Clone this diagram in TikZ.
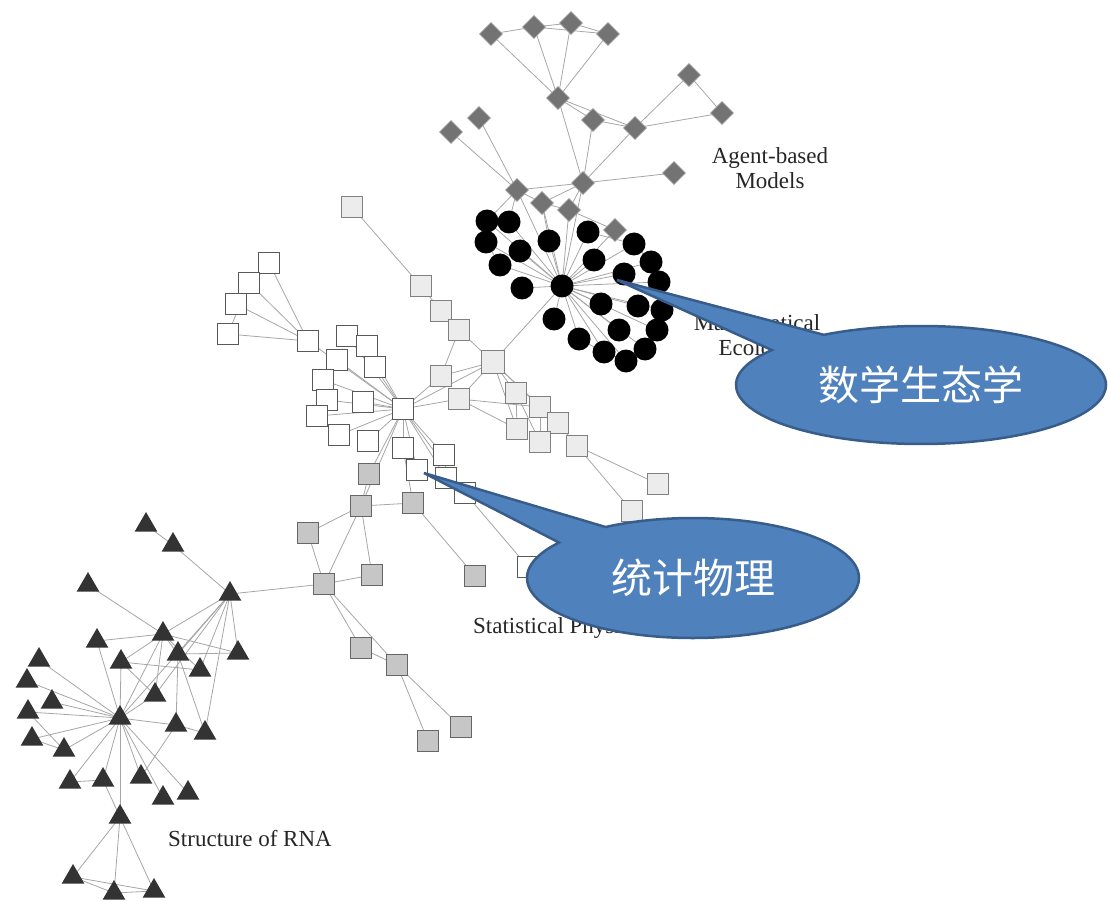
\documentclass[tikz,border=0pt]{standalone}
\usepackage{fontspec}
\setmainfont{Liberation Serif}
\newfontfamily\cjk{Noto Sans CJK SC}
\usepackage{tikz}
\usetikzlibrary{shapes.geometric,shapes.callouts,backgrounds}

\definecolor{bubblefill}{RGB}{79,129,189}
\definecolor{bubbleedge}{RGB}{56,93,138}

\tikzset{
  edge/.style={draw=gray!70, line width=0.8pt},
  dia/.style={diamond, fill=black!55, draw=black!40, line width=0.6pt, minimum size=23pt, inner sep=0pt},
  blob/.style={circle, fill=black, minimum size=23pt, inner sep=0pt},
  sqw/.style={rectangle, fill=white, draw=black!65, line width=0.9pt, minimum size=21pt, inner sep=0pt},
  sql/.style={rectangle, fill=gray!15, draw=black!50, line width=0.9pt, minimum size=21pt, inner sep=0pt},
  sqm/.style={rectangle, fill=gray!45, draw=black!60, line width=0.9pt, minimum size=21pt, inner sep=0pt},
  tri/.style={regular polygon, regular polygon sides=3, fill=black!80, minimum size=26pt, inner sep=0pt},
  lbl/.style={text=black!85, font=\fontsize{23}{25}\selectfont, inner sep=0pt},
  bubble/.style={ellipse callout, fill=bubblefill, draw=bubbleedge, line width=2.5pt,
    text=white, font=\cjk\fontsize{41}{45}\selectfont, callout pointer arc=22}
}

\begin{document}
\begin{tikzpicture}[x=1pt, y=-1pt]
  \useasboundingbox (0,0) rectangle (1108,901);

  % Agent-based models
  \foreach \n/\x/\y in {d1/491/34, d2/534/27, d3/571/23, d4/608/34, d5/558/98,
      d6/689/75, d7/722/113, d8/593/120, d9/635/128, d10/479/118, d11/451/132,
      d12/583/183, d13/517/190, d14/674/173, d15/542/203, d16/569/210, d17/615/230}
    \node[dia] (\n) at (\x,\y) {};

  % Mathematical ecology
  \node[blob] (ch) at (562,286) {};
  \foreach \n/\x/\y in {c1/487/221, c2/509/222, c3/486/242, c4/520/251, c5/500/265,
      c6/549/241, c7/588/232, c8/594/260, c9/634/244, c10/651/262, c11/624/274,
      c12/659/282, c13/522/288, c14/601/304, c15/638/306, c16/662/310, c17/554/319,
      c18/619/330, c19/657/330, c20/579/339, c21/604/352, c22/626/361, c23/645/349}
    \node[blob] (\n) at (\x,\y) {};

  % Statistical physics: light squares
  \foreach \n/\x/\y in {l1/352/207, l2/421/286, l3/441/311, l4/459/330, l6/441/376,
      l7/459/399, l8/516/393, l9/540/407, l10/558/423, l11/517/429, l12/540/442,
      l13/577/446, l14/658/484, l15/632/511}
    \node[sql] (\n) at (\x,\y) {};
  \node[sql, minimum size=23pt] (l5) at (493,362) {};

  % Statistical physics: white squares
  \foreach \n/\x/\y in {w1/269/263, w2/249/283, w3/236/304, w4/228/334, w5/308/341,
      w6/347/336, w7/367/346, w8/337/360, w9/375/367, w10/323/380, w11/327/400,
      w12/363/402, w13/317/416, w14/339/435, w15/368/441, w16/403/448, w17/444/455,
      w18/417/470, w19/446/478, w20/465/493, w21/528/567, w0/403/409}
    \node[sqw] (\n) at (\x,\y) {};

  % Statistical physics: dark squares
  \foreach \n/\x/\y in {m1/369/474, m2/361/506, m3/413/503, m4/308/533, m5/324/584,
      m6/372/575, m7/475/576, m8/361/648, m9/397/665, m10/461/727, m11/428/741}
    \node[sqm] (\n) at (\x,\y) {};

  % Structure of RNA
  \foreach \n/\x/\y in {t1/146/525, t2/173/545, t3/230/594, t4/88/585, t5/163/634,
      t6/97/641, t7/178/654, t8/238/653, t9/39/660, t10/121/662, t11/200/670,
      t12/27/681, t13/155/695, t14/52/702, tb/120/718, t15/28/712, t16/176/725,
      t17/205/733, t18/32/739, t19/64/750, t20/70/782, t21/103/780, t22/141/777,
      t23/163/798, t24/188/793, tc/120/817, t26/73/877, t27/114/893, t28/154/891}
    \node[tri] (\n) at (\x,\y) {};

  % Links
  \begin{scope}[on background layer]
    \foreach \a/\b in {d1/d2, d2/d3, d3/d4, d2/d4, d1/d5, d2/d5, d3/d5, d4/d5,
        d5/d8, d5/d9, d8/d9, d6/d9, d6/d7, d7/d9, d5/d12, d8/d12, d9/d12,
        d10/d13, d11/d13, d13/d12, d12/d14, d12/d15, d12/d16, d13/d15, d15/d16,
        d16/d17, d13/c1, d13/c2, d13/ch, d12/ch, d15/ch, d16/ch, d17/ch, d15/c6}
      \draw[edge] (\a.center) -- (\b.center);
    \foreach \c in {1,...,23}
      \draw[edge] (ch.center) -- (c\c.center);
    \foreach \a/\b in {c1/c3, c3/c5, c7/c9, c9/c10, c10/c12, c12/c16, c16/c19,
        c19/c23, c23/c22, c22/c21, c21/c20, ch/l5}
      \draw[edge] (\a.center) -- (\b.center);
    \foreach \a/\b in {l1/l2, l2/l3, l3/l4, l4/l6, l4/l5, l5/l6, l5/l7, l5/l8,
        l5/l9, l5/l10, l5/l11, l7/l11, l8/l11, l8/l12, l9/l12, l7/l9, l10/l13,
        l12/l10, l13/l14, l13/l15}
      \draw[edge] (\a.center) -- (\b.center);
    \foreach \w in {5,...,20}
      \draw[edge] (w0.center) -- (w\w.center);
    \foreach \a/\b in {w5/w1, w5/w2, w5/w3, w5/w4, w1/w2, w2/w3, w1/w3, w2/w4,
        w6/w7, w8/w10, w10/w11, w11/w13, w20/w21, w0/l5, w0/l6, w0/l7,
        w0/m1, w0/m2}
      \draw[edge] (\a.center) -- (\b.center);
    \foreach \a/\b in {m1/m2, m2/m3, m2/m4, m2/m5, m2/m6, m4/m5, m5/m6, m5/m8,
        m5/m9, m8/m9, m9/m10, m9/m11, m3/m7, m3/w16, m5/t3}
      \draw[edge] (\a.center) -- (\b.center);
    \foreach \a/\b in {t1/t2, t2/t3, t3/t5, t3/t7, t3/t8, t3/t11, t3/t13, t3/tb,
        t3/t17, t4/t5, t5/t6, t5/t7, t5/t8, t5/t10, t5/t11, t5/t13, t5/tb,
        t7/t8, t10/t11, t7/t16, t7/t17, t6/tb, t9/tb, t12/tb, t14/tb, t15/tb,
        t15/t19, t18/tb, t18/t19, t19/tb, t13/tb, t10/tb, t10/t13, tb/t16,
        t16/t17, tb/t20, tb/t21, tb/t22, tb/t23, tb/t24, tb/tc, t20/t21,
        t21/tc, t22/t16, tc/t26, tc/t27, tc/t28, t26/t27, t26/t28, t27/t28}
      \draw[edge] (\a.center) -- (\b.center);
  \end{scope}

  % Labels
  \node[lbl, align=center] (agent) at (770,168) {Agent-based\\Models};
  \node[lbl, align=center] (ecol) at (757,338) {Mathematical\\Ecology};
  \node[lbl, anchor=west] (phys) at (473,628) {Statistical Physics};
  \node[lbl, anchor=west] (rna) at (168,839) {Structure of RNA};

  % Callouts
  \coordinate (ecotip) at (617,280);
  \coordinate (phystip) at (424,473);
  \node[bubble, minimum width=370pt, minimum height=118pt,
    callout absolute pointer={(ecotip)}] (eco) at (921,385) {数学生态学};
  \node[bubble, minimum width=332pt, minimum height=120pt,
    callout absolute pointer={(phystip)}] (stat) at (693,578) {统计物理};
\end{tikzpicture}
\end{document}
